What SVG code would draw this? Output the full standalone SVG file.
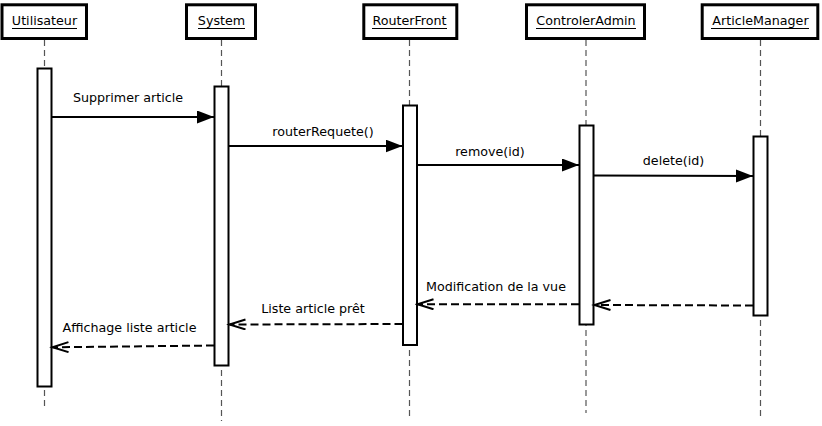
<svg xmlns="http://www.w3.org/2000/svg" width="822" height="426" viewBox="0 0 822 426">
<style>
text{font-family:"DejaVu Sans","Liberation Sans",sans-serif;font-size:12.7px;fill:#000}
.actor{fill:#fff;stroke:#000;stroke-width:3}
.ul{stroke:#000;stroke-width:1}
.life{stroke:#555;stroke-width:1.2;stroke-dasharray:6 4;fill:none}
.act{fill:#fff;stroke:#000;stroke-width:2}
.msg{stroke:#000;stroke-width:2;fill:none}
.ret{stroke:#000;stroke-width:2;fill:none;stroke-dasharray:8 4}
</style>
<defs>
<marker id="filled" markerUnits="userSpaceOnUse" markerWidth="18" markerHeight="14" refX="17" refY="6.5" orient="auto"><path d="M0,0 L17,6.5 L0,13 z" fill="#000"/></marker>
<marker id="open" markerUnits="userSpaceOnUse" markerWidth="20" markerHeight="14" refX="17" refY="6" orient="auto"><path d="M1,1 L17,6 L1,11" fill="none" stroke="#000" stroke-width="2"/></marker>
</defs>
<rect width="822" height="426" fill="#fff"/>
<g id="utilisateur">
<line class="life" x1="44.5" y1="40" x2="44.5" y2="410"/>
<rect class="actor" x="2" y="4.8" width="84.5" height="33.7"/>
<text x="44.5" y="25" text-anchor="middle">Utilisateur</text>
<line class="ul" x1="12" y1="28.5" x2="77" y2="28.5"/>
<rect class="act" x="37.5" y="68.5" width="14" height="318"/>
</g>
<g id="system">
<line class="life" x1="221.5" y1="40" x2="221.5" y2="421"/>
<rect class="actor" x="186.5" y="4.8" width="69" height="33.7"/>
<text x="221.5" y="25" text-anchor="middle">System</text>
<line class="ul" x1="198" y1="28.5" x2="245" y2="28.5"/>
<rect class="act" x="214.5" y="86.5" width="14" height="279"/>
</g>
<g id="routerfront">
<line class="life" x1="409.5" y1="40" x2="409.5" y2="417"/>
<rect class="actor" x="363.8" y="4.8" width="93" height="33.7"/>
<text x="409.5" y="25" text-anchor="middle">RouterFront</text>
<line class="ul" x1="372" y1="28.5" x2="447" y2="28.5"/>
<rect class="act" x="403" y="105.5" width="14" height="239.5"/>
</g>
<g id="controleradmin">
<line class="life" x1="586" y1="40" x2="586" y2="413"/>
<rect class="actor" x="526.5" y="4.8" width="118" height="33.7"/>
<text x="586" y="25" text-anchor="middle">ControlerAdmin</text>
<line class="ul" x1="536" y1="28.5" x2="636" y2="28.5"/>
<rect class="act" x="579.5" y="125.5" width="14" height="199"/>
</g>
<g id="articlemanager">
<line class="life" x1="760.5" y1="40" x2="760.5" y2="420"/>
<rect class="actor" x="702.2" y="4.8" width="115.6" height="33.7"/>
<text x="760.5" y="25" text-anchor="middle">ArticleManager</text>
<line class="ul" x1="711" y1="28.5" x2="809" y2="28.5"/>
<rect class="act" x="753.5" y="136.5" width="14" height="179"/>
</g>
<g id="connectors">
<line class="msg" x1="52" y1="117" x2="214" y2="117" marker-end="url(#filled)"/>
<text x="128" y="102" text-anchor="middle">Supprimer article</text>
<line class="msg" x1="229" y1="146" x2="402.5" y2="146" marker-end="url(#filled)"/>
<text x="323" y="136" text-anchor="middle">routerRequete()</text>
<line class="msg" x1="417" y1="165" x2="579" y2="165" marker-end="url(#filled)"/>
<text x="490" y="156" text-anchor="middle">remove(id)</text>
<line class="msg" x1="594" y1="175.5" x2="753" y2="176" marker-end="url(#filled)"/>
<text x="673.5" y="164.5" text-anchor="middle">delete(id)</text>
<line class="ret" x1="753" y1="305.5" x2="594.5" y2="305" marker-end="url(#open)"/>
<line class="ret" x1="579" y1="304.3" x2="417.5" y2="304.3" marker-end="url(#open)"/>
<text x="496" y="291" text-anchor="middle">Modification de la vue</text>
<line class="ret" x1="402.5" y1="324" x2="229.5" y2="324.5" marker-end="url(#open)"/>
<text x="313" y="312.5" text-anchor="middle">Liste article prêt</text>
<line class="ret" x1="214" y1="345.5" x2="52.5" y2="347.3" marker-end="url(#open)"/>
<text x="129.5" y="332" text-anchor="middle">Affichage liste article</text>
</g>
</svg>
